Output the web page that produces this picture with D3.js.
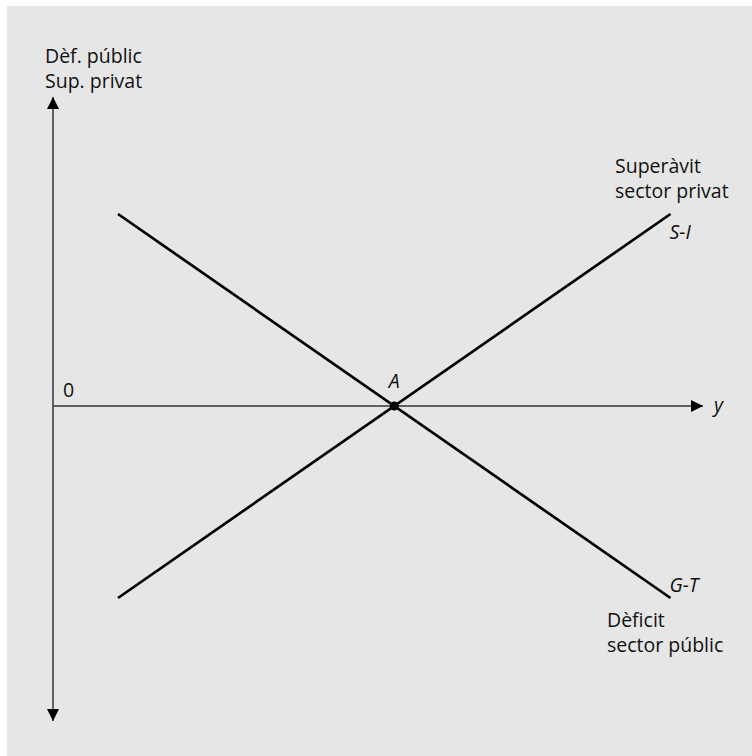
<!DOCTYPE html>
<html>
<head>
<meta charset="utf-8">
<script src="https://d3js.org/d3.v7.min.js"></script>
<style>
    body {
        margin: 0;
        background-color: white;
        font-family: "Open Sans", sans-serif;
    }

    svg {
        display: block;
    }

    text {
        fill: #111;
        font-size: 19.5px;
    }
</style>
</head>
<body>
<svg></svg>
<script>
    // curve endpoints in data units (x: output, y: balance)
    const lineNames = ["G-T", "S-I"];
    const lineStartX = [10, 10];
    const lineStartY = [64, -64];
    const lineEndX = [95, 95];
    const lineEndY = [-64, 64];
    const pointA = [52.5, 0];

    const yAxisLabel = ["Dèf. públic", "Sup. privat"];
    const topRightLabel = ["Superàvit", "sector privat"];
    const bottomRightLabel = ["Dèficit", "sector públic"];

    // axis extents in data units
    const xAxisExtent = [0, 100];
    const yAxisExtent = [-105, 103];

    function createVis() {
        let width = 752;
        let height = 756;
        let svg = d3.select("svg")
            .attr("width", width)
            .attr("height", height);

        svg.append("rect")
            .attr("x", 7)
            .attr("y", 6)
            .attr("width", width - 7)
            .attr("height", height - 6)
            .attr("fill", "#e6e6e6");

        let xScale = d3.scaleLinear()
            .domain([0, 100])
            .range([53, 703]);
        let yScale = d3.scaleLinear()
            .domain([-100, 100])
            .range([706, 106]);

        // arrow heads
        let defs = svg.append("defs");
        defs.append("marker")
            .attr("id", "arrow")
            .attr("viewBox", "0 0 12 12")
            .attr("refX", 12)
            .attr("refY", 6)
            .attr("markerWidth", 12)
            .attr("markerHeight", 12)
            .attr("markerUnits", "userSpaceOnUse")
            .attr("orient", "auto-start-reverse")
            .append("path")
            .attr("d", "M0,0 L12,6 L0,12 Z")
            .attr("fill", "#000");

        // vertical axis
        svg.append("line")
            .attr("x1", xScale(0))
            .attr("x2", xScale(0))
            .attr("y1", yScale(yAxisExtent[0]))
            .attr("y2", yScale(yAxisExtent[1]))
            .attr("stroke", "#333")
            .attr("stroke-width", 1.5)
            .attr("marker-start", "url(#arrow)")
            .attr("marker-end", "url(#arrow)");

        // horizontal axis
        svg.append("line")
            .attr("x1", xScale(xAxisExtent[0]))
            .attr("x2", xScale(xAxisExtent[1]))
            .attr("y1", yScale(0))
            .attr("y2", yScale(0))
            .attr("stroke", "#333")
            .attr("stroke-width", 1.5)
            .attr("marker-end", "url(#arrow)");

        // the two lines
        let lines = lineNames.map((name, i) => ({
            name: name,
            x1: lineStartX[i], y1: lineStartY[i],
            x2: lineEndX[i], y2: lineEndY[i]
        }));

        svg.selectAll(".curve")
            .data(lines)
            .join("line")
            .attr("class", "curve")
            .attr("x1", d => xScale(d.x1))
            .attr("y1", d => yScale(d.y1))
            .attr("x2", d => xScale(d.x2))
            .attr("y2", d => yScale(d.y2))
            .attr("stroke", "#000")
            .attr("stroke-width", 2.7);

        svg.selectAll(".curve-name")
            .data(lines)
            .join("text")
            .attr("class", "curve-name")
            .attr("x", d => xScale(d.x2) - 1)
            .attr("y", d => yScale(d.y2) + (d.y2 < 0 ? -6 : 25))
            .attr("font-style", "italic")
            .text(d => d.name);

        // point A
        svg.append("circle")
            .attr("cx", xScale(pointA[0]))
            .attr("cy", yScale(pointA[1]))
            .attr("r", 4.5)
            .attr("fill", "#000");
        svg.append("text")
            .attr("x", xScale(pointA[0]))
            .attr("y", yScale(pointA[1]) - 18)
            .attr("text-anchor", "middle")
            .attr("font-style", "italic")
            .text("A");

        // axis labels
        svg.append("text")
            .attr("x", xScale(0) + 10)
            .attr("y", yScale(0) - 9)
            .text("0");
        svg.append("text")
            .attr("x", xScale(xAxisExtent[1]) + 11)
            .attr("y", yScale(0) + 6)
            .attr("font-style", "italic")
            .text("y");

        function block(lines, x, y) {
            let t = svg.append("text");
            lines.forEach((s, i) => {
                t.append("tspan")
                    .attr("x", x)
                    .attr("y", y + i * 25)
                    .text(s);
            });
        }
        block(yAxisLabel, 45, 63);
        block(topRightLabel, 615, 173);
        block(bottomRightLabel, 607, 627);
    }
    createVis();
</script>
</body>
</html>
